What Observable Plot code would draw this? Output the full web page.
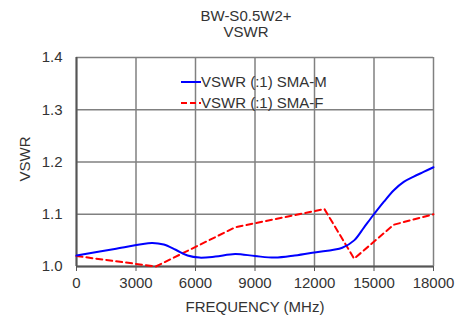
<!DOCTYPE html>
<html><head><meta charset="utf-8">
<script src="https://cdn.jsdelivr.net/npm/d3@7"></script>
<script src="https://cdn.jsdelivr.net/npm/@observablehq/plot@0.6"></script>
<style>
body{margin:0;background:#fff;font-family:"Liberation Sans",Arial,sans-serif;color:#333}
#wrap{position:relative;width:469px;height:315px;overflow:hidden}
.t{position:absolute;font-size:15px;line-height:16px;white-space:nowrap}
#title{left:146px;width:200px;top:8px;text-align:center}
#xlab{left:155px;width:200px;top:299px;text-align:center}
#ylab{left:25px;top:159px;transform:translate(-50%,-50%) rotate(-90deg)}
.leg{position:absolute;left:181px;display:flex;align-items:center;height:16px}
.leg svg{display:block}
</style></head><body>
<div id="wrap"></div>
<script>
const titleLines = ["BW-S0.5W2+", "VSWR"];
const xTitle = "FREQUENCY (MHz)";
const yTitle = "VSWR";
const seriesNames = ["VSWR (:1) SMA-M", "VSWR (:1) SMA-F"];
const seriesColors = ["#0000ff", "#ff0000"];

const freqM = [0, 2000, 3800, 4400, 5000, 5600, 6200, 7000, 8000, 9000, 10000, 11000, 12000, 13400, 14000, 14500, 15000, 15500, 16000, 16500, 17000, 17500, 18000];
const vswrM = [1.021, 1.034, 1.045, 1.042, 1.032, 1.021, 1.017, 1.019, 1.024, 1.020, 1.017, 1.021, 1.027, 1.036, 1.050, 1.075, 1.100, 1.124, 1.146, 1.162, 1.172, 1.181, 1.190];

const freqF = [0, 4000, 8000, 12500, 14000, 16000, 18000];
const vswrF = [1.020, 1.000, 1.075, 1.110, 1.015, 1.080, 1.100];

const xTicks = [0, 3000, 6000, 9000, 12000, 15000, 18000];
const yTicks = [1.0, 1.1, 1.2, 1.3, 1.4];

const dataM = freqM.map((f, i) => ({f, v: vswrM[i]}));
const dataF = freqF.map((f, i) => ({f, v: vswrF[i]}));

const chart = Plot.plot({
  width: 469, height: 315,
  marginLeft: 76, marginRight: 36, marginTop: 57, marginBottom: 49,
  x: {domain: [0, 18000]},
  y: {domain: [1.0, 1.4]},
  style: {fontFamily: '"Liberation Sans", Arial, sans-serif', fontSize: "15px", color: "#333", background: "#fff"},
  marks: [
    Plot.gridX(xTicks, {stroke: "#808080", strokeOpacity: 1, strokeWidth: 1.5}),
    Plot.gridY(yTicks, {stroke: "#808080", strokeOpacity: 1, strokeWidth: 1.5}),
    Plot.axisX(xTicks, {tickSize: 5, tickPadding: 6, label: null, stroke: "#555", fontSize: 15, tickFormat: d => String(d)}),
    Plot.axisY(yTicks, {tickSize: 0, tickPadding: 14, label: null, tickFormat: d3.format(".1f"), fontSize: 15}),
    Plot.ruleX([0], {stroke: "#555", strokeWidth: 2}),
    Plot.ruleY([1.0], {stroke: "#555", strokeWidth: 2}),
    Plot.line(dataF, {x: "f", y: "v", stroke: seriesColors[1], strokeWidth: 2, strokeDasharray: "6,4"}),
    Plot.line(dataM, {x: "f", y: "v", stroke: seriesColors[0], strokeWidth: 2, curve: "catmull-rom"})
  ]
});

const wrap = document.getElementById("wrap");
wrap.appendChild(chart);

const t = document.createElement("div");
t.className = "t"; t.id = "title";
t.innerHTML = titleLines.join("<br>");
wrap.appendChild(t);

const xl = document.createElement("div");
xl.className = "t"; xl.id = "xlab"; xl.textContent = xTitle;
wrap.appendChild(xl);

const yl = document.createElement("div");
yl.className = "t"; yl.id = "ylab"; yl.textContent = yTitle;
wrap.appendChild(yl);

const legTops = [74, 95];
seriesNames.forEach((name, i) => {
  const row = document.createElement("div");
  row.className = "leg";
  row.style.top = legTops[i] + "px";
  const dash = i === 1 ? 'stroke-dasharray="6,3"' : "";
  row.innerHTML = `<svg width="20" height="16"><line x1="0" x2="20" y1="8" y2="8" stroke="${seriesColors[i]}" stroke-width="2" ${dash}/></svg><span class="t" style="position:static">${name}</span>`;
  wrap.appendChild(row);
});
</script>
</body></html>
